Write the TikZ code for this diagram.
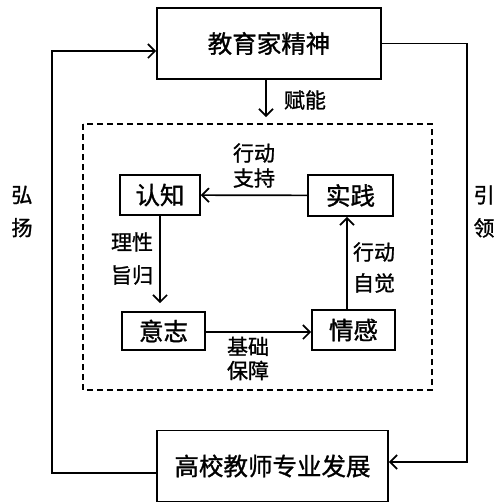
\documentclass[tikz,border=0pt]{standalone}
\usepackage{fontspec}
\setmainfont{Noto Sans CJK SC}[FakeBold=1.2]
\usetikzlibrary{arrows.meta,positioning}

\begin{document}
\begin{tikzpicture}[x=1pt,y=-1pt,
    box/.style={draw,line width=1.7pt,inner sep=0pt,font=\fontsize{24.5}{27}\selectfont},
    arr/.style={line width=1.7pt,-{Straight Barb[length=7pt,width=14pt,line width=1.7pt]}},
    lbl/.style={font=\fontsize{21}{24}\selectfont,align=center,inner sep=0pt}]
    \useasboundingbox (0,0) rectangle (501,504);
    % outer boxes
    \node[box,minimum width=224pt,minimum height=71pt] (spirit) at (269,43.5) {教育家精神};
    \node[box,minimum width=231pt,minimum height=71pt] (dev) at (272.5,466) {高校教师专业发展};
    % dashed frame
    \draw[line width=1.7pt,dash pattern=on 6pt off 4pt] (83,124) rectangle (432,390);
    % inner cycle
    \node[box,minimum width=80pt,minimum height=40pt] (cog) at (160,195) {认知};
    \node[box,minimum width=85pt,minimum height=41pt] (prac) at (350.5,195.5) {实践};
    \node[box,minimum width=83pt,minimum height=38pt] (will) at (163.5,331) {意志};
    \node[box,minimum width=83pt,minimum height=40pt] (emo) at (353.5,330) {情感};
    \coordinate (lt) at (52,51);
    \coordinate (lb) at (52,473);
    \coordinate (rb) at (467,462);
    % connectors
    \draw[arr] (spirit.south -| 266,0) -- (266,117);
    \draw[arr] (prac) -- (cog);
    \draw[arr,shorten >=8pt] (cog.south) -- (cog.south |- will.north);
    \draw[arr] (will.east |- 0,332) -- (emo.west |- 0,332);
    \draw[arr] (emo.north -| 347,0) -- (prac.south -| 347,0);
    \draw[arr] (dev.west |- lb) -- (lb) |- (spirit.west |- lt);
    \draw[arr] (spirit.east) -| (rb) -- (dev.east |- rb);
    % labels
    \node[lbl] (fn) at (305,100) {赋能};
    \node[lbl] (xdzc) at (254,165.5) {行动\\[1pt]支持};
    \node[lbl] (lxzg) at (132,258.5) {理性\\[9pt]旨归};
    \node[lbl] (jcbz) at (248,358.5) {基础\\保障};
    \node[lbl] (xdzj) at (374,267.5) {行动\\[7pt]自觉};
    \node[lbl] (hy) at (22,211.5) {弘\\[9pt]扬};
    \node[lbl] (yl) at (484,211.5) {引\\[9pt]领};
\end{tikzpicture}
\end{document}
